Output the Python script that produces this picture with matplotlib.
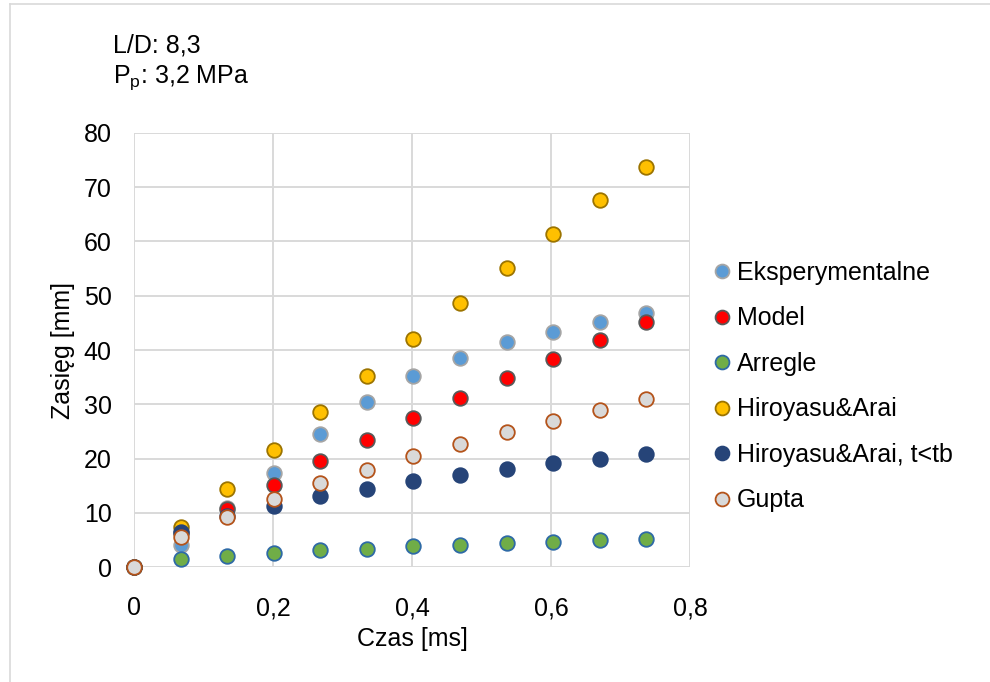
"""
Zasieg strugi w funkcji czasu - porownanie modeli
L/D 8,3, Pp 3,2 MPa
"""

import matplotlib
matplotlib.use('Agg')
import matplotlib.pyplot as plt
from matplotlib.lines import Line2D

GRID_COLOR = '#d9d9d9'
TEXT_COLOR = '#000000'

plt.rcParams['font.family'] = ['Liberation Sans', 'DejaVu Sans']
plt.rcParams['mathtext.fontset'] = 'custom'
plt.rcParams['mathtext.rm'] = 'Liberation Sans'
plt.rcParams['mathtext.it'] = 'Liberation Sans'

# czas [ms]
czas = [0, 0.067, 0.134, 0.201, 0.268, 0.335, 0.402, 0.469, 0.536, 0.603, 0.670, 0.737]

# zasieg [mm]
eksperymentalne = [0, 4.0, 10.9, 17.4, 24.6, 30.5, 35.2, 38.6, 41.4, 43.4, 45.1, 46.8]
model = [0, 6.3, 10.7, 15.1, 19.5, 23.5, 27.4, 31.2, 34.9, 38.4, 41.8, 45.1]
arregle = [0, 1.4, 2.0, 2.6, 3.1, 3.4, 3.8, 4.1, 4.4, 4.7, 5.0, 5.2]
hiroyasu = [0, 7.4, 14.4, 21.6, 28.5, 35.3, 42.0, 48.6, 55.1, 61.3, 67.6, 73.7]
hiroyasu_tb = [0, 6.4, 9.4, 11.2, 13.1, 14.4, 15.8, 16.9, 18.0, 19.1, 20.0, 20.9]
gupta = [0, 5.6, 9.2, 12.5, 15.4, 17.9, 20.4, 22.6, 24.8, 27.0, 29.0, 31.0]

series = [
    ('Eksperymentalne', eksperymentalne, '#5b9bd5', '#a5a5a5'),
    ('Model', model, '#ff0000', '#595959'),
    ('Arregle', arregle, '#70ad47', '#2e6aa6'),
    ('Hiroyasu&Arai', hiroyasu, '#ffc000', '#9c7400'),
    ('Hiroyasu&Arai, t<tb', hiroyasu_tb, '#264478', '#264478'),
    ('Gupta', gupta, '#d9d9d9', '#b4531a'),
]

fig = plt.figure(figsize=(9.9, 6.82), dpi=100)
fig.patch.set_facecolor('white')
ax = fig.add_axes([0.1354, 0.1686, 0.5616, 0.6364])

for label, vals, fill, edge in series:
    ax.plot(czas, vals, linestyle='none', marker='o', markersize=10.5,
            markerfacecolor=fill, markeredgecolor=edge, markeredgewidth=1.3,
            label=label, clip_on=False, zorder=3)

ax.set_xlim(0, 0.8)
ax.set_ylim(0, 80)
ax.set_xticks([0, 0.2, 0.4, 0.6, 0.8])
ax.set_xticklabels(['0', '0,2', '0,4', '0,6', '0,8'])
ax.set_yticks(range(0, 81, 10))

ax.grid(True, color=GRID_COLOR, linewidth=1.4)
ax.set_axisbelow(True)
for s in ax.spines.values():
    s.set_visible(False)
ax.tick_params(axis='both', length=0, labelsize=18, colors=TEXT_COLOR)
ax.tick_params(axis='y', pad=16)
ax.tick_params(axis='x', pad=21)

ax.set_xlabel('Czas [ms]', fontsize=18, labelpad=5)
ax.set_ylabel('Zasięg [mm]', fontsize=18, labelpad=6)

fig.text(0.114, 0.934, 'L/D: 8,3', fontsize=18, va='center', ha='left')
fig.text(0.114, 0.886, 'P$_\\mathrm{p}$: 3,2 MPa', fontsize=18, va='center', ha='left')

leg = ax.legend(loc='center left', bbox_to_anchor=(0.7105, 0.433),
                bbox_transform=fig.transFigure, frameon=False, fontsize=18,
                handlelength=0.5, handletextpad=0.35, labelspacing=0.86,
                borderpad=0, markerscale=0.95)

# ramka wykresu (widoczna tylko gora i lewa krawedz)
fig.add_artist(Line2D([10 / 990, 1], [1 - 4 / 682, 1 - 4 / 682],
                      transform=fig.transFigure, color=GRID_COLOR, linewidth=1.2))
fig.add_artist(Line2D([10 / 990, 10 / 990], [0, 1 - 4 / 682],
                      transform=fig.transFigure, color=GRID_COLOR, linewidth=1.2))

fig.savefig('out.png', dpi=100, facecolor='white')
plt.close(fig)
